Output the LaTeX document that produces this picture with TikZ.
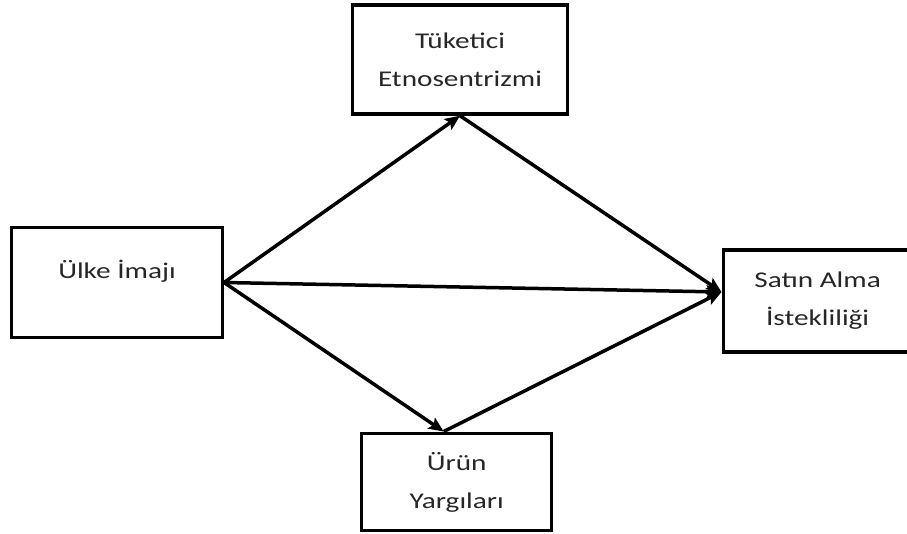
\documentclass[tikz,border=0pt]{standalone}
\usepackage{fontspec}
\setmainfont{Carlito}[FakeStretch=1.3]
\usetikzlibrary{arrows.meta,calc}
\tikzset{
  box/.style={
    draw,
    line width=3.5pt,
    align=center,
    inner sep=0pt,
    text=black!85,
    font=\fontsize{22.5}{38}\selectfont
  },
  link/.style={
    line width=3.5pt,
    -{Stealth[length=15pt,width=13pt,inset=3pt]}
  }
}
\begin{document}
\begin{tikzpicture}[x=1pt,y=1pt]
  \useasboundingbox (0,0) rectangle (907,533);
  \node[box, minimum width=215pt, minimum height=109pt] (tuketici) at (460,473.5) {Tüketici\\Etnosentrizmi};
  \node[box, minimum width=210.6pt, minimum height=110pt, text height=10pt, text depth=17pt] (ulke) at (117,250.5) {Ülke İmajı};
  \node[box, minimum width=188.7pt, minimum height=102pt] (satin) at (817.6,232) {Satın Alma\\İstekliliği};
  \node[box, minimum width=190pt, minimum height=97.4pt] (urun) at (456.7,51) {Ürün\\Yargıları};
  \coordinate (satin-in) at ($(satin.west)+(0,9)$);
  \coordinate (urun-in) at ($(urun.north)+(-13,0)$);
  \draw[link] (ulke.east) -- (tuketici.south);
  \draw[link] (ulke.east) -- (satin-in);
  \draw[link] (ulke.east) -- (urun-in);
  \draw[link] (tuketici.south) -- (satin-in);
  \draw[link] (urun-in) -- (satin-in);
\end{tikzpicture}
\end{document}
